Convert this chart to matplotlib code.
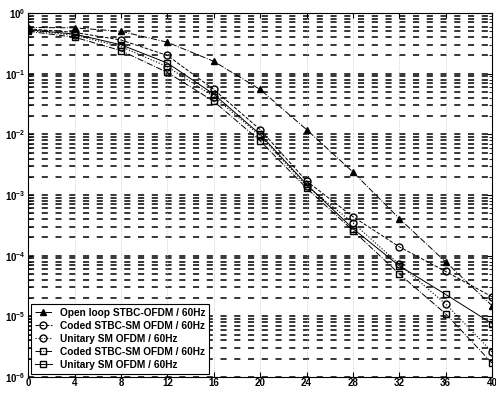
import numpy as np
import matplotlib
matplotlib.use("Agg")
import matplotlib.pyplot as plt

plt.rcParams['font.family'] = ['Liberation Sans', 'DejaVu Sans']
plt.rcParams['font.weight'] = 'bold'
plt.rcParams['mathtext.default'] = 'regular'

# SNR (dB)
snr = [0, 4, 8, 12, 16, 20, 24, 28, 32, 36, 40]

# BER curves
open_loop = [0.58, 0.57, 0.50, 0.33, 0.16, 0.055, 0.012, 0.0024, 4.1e-4, 7.9e-5, 1.5e-5]
coded_circ = [0.55, 0.48, 0.36, 0.20, 0.055, 0.012, 0.0017, 4.4e-4, 1.4e-4, 5.5e-5, 2.1e-5]
unit_circ = [0.52, 0.43, 0.28, 0.13, 0.042, 0.0095, 0.0014, 3.5e-4, 7.2e-5, 1.6e-5, 2.6e-6]
coded_sq = [0.50, 0.40, 0.24, 0.105, 0.035, 0.0078, 0.0013, 2.6e-4, 5.0e-5, 1.1e-5, 1.7e-6]
unit_sq = [0.53, 0.45, 0.30, 0.15, 0.046, 0.0100, 0.0015, 2.8e-4, 6.8e-5, 2.3e-5, 7.6e-6]

labels = ['Open loop STBC-OFDM / 60Hz',
          'Coded STBC-SM OFDM / 60Hz',
          'Unitary SM OFDM / 60Hz',
          'Coded STBC-SM OFDM / 60Hz',
          'Unitary SM OFDM / 60Hz']

fig = plt.figure(figsize=(4.96, 3.96), dpi=100)
ax = fig.add_axes([0.057, 0.048, 0.935, 0.919])

# horizontal grid (decades + minor), dashed like the scan
for e in range(-6, 0):
    for m in range(1, 10):
        v = m * 10.0 ** e
        ax.axhline(v, color='black', lw=1.1, ls=(0, (4, 5)), zorder=0)
for xv in range(4, 40, 4):
    ax.axvline(xv, color='0.75', lw=0.6, ls=':', zorder=0)

ax.semilogy(snr, open_loop, '-.', color='black', lw=0.7, marker='^',
            mfc='black', ms=5, label=labels[0])
ax.semilogy(snr, coded_circ, '--', color='black', lw=0.7, marker='o',
            mfc='none', ms=5, label=labels[1])
ax.semilogy(snr, unit_circ, ':', color='black', lw=0.8, marker='o',
            mfc='none', ms=5, label=labels[2])
ax.semilogy(snr, coded_sq, '-.', color='black', lw=0.7, marker='s',
            mfc='none', ms=5, label=labels[3])
ax.semilogy(snr, unit_sq, '-', color='black', lw=0.7, marker='s',
            mfc='none', ms=5, label=labels[4])

ax.set_xlim(0, 40)
ax.set_ylim(1e-6, 1)
ax.set_xticks(range(0, 41, 4))
ax.tick_params(labelsize=7, direction='in', which='both', top=True, right=True, pad=2)
ax.tick_params(axis='x', pad=1)

leg = ax.legend(loc='lower left', fontsize=7.3, fancybox=False, framealpha=1,
                edgecolor='black', handlelength=1.6, handletextpad=0.8,
                borderaxespad=0.3, labelspacing=0.3)
leg.get_frame().set_linewidth(0.8)

fig.savefig('out.png', dpi=100)
